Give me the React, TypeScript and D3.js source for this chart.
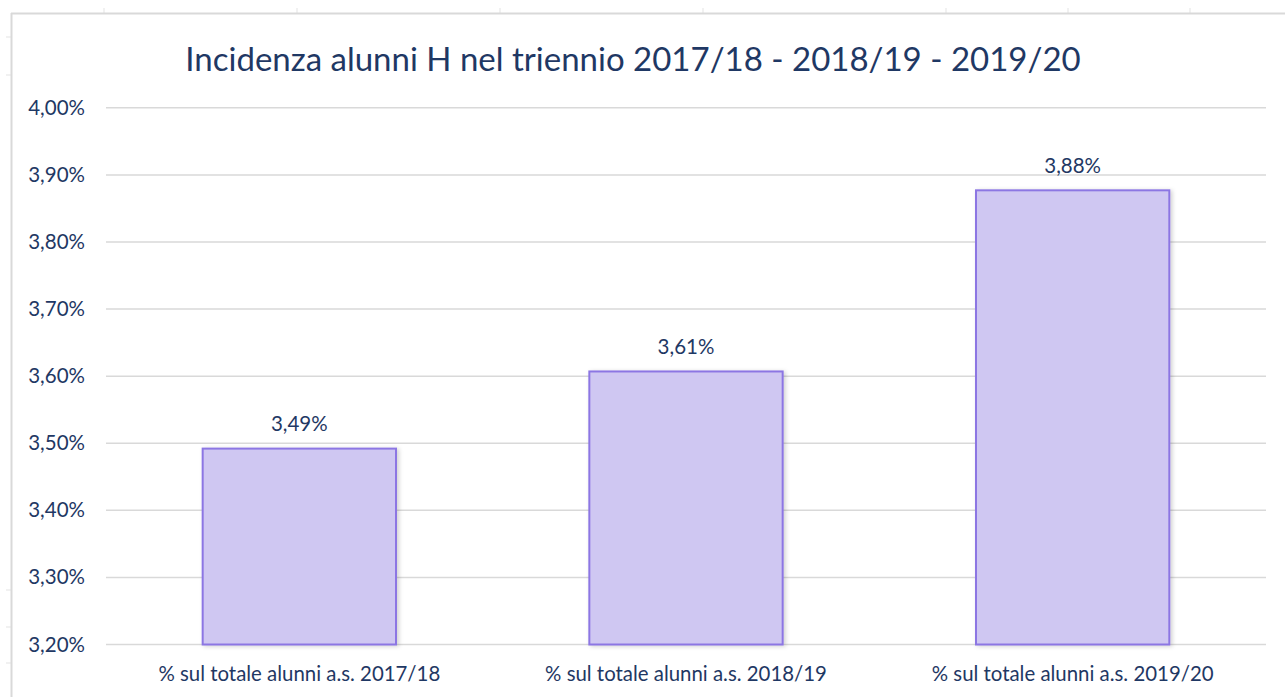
import React from "react";
import * as d3 from "d3";

const categories = [
  "% sul totale alunni a.s. 2017/18",
  "% sul totale alunni a.s. 2018/19",
  "% sul totale alunni a.s. 2019/20",
];
const values = [3.492, 3.607, 3.877];
const valueLabels = ["3,49%", "3,61%", "3,88%"];
const yTicks = [3.2, 3.3, 3.4, 3.5, 3.6, 3.7, 3.8, 3.9, 4.0];
const title = "Incidenza alunni H nel triennio 2017/18 - 2018/19 - 2019/20";
const cellColumnMarks = [104, 297, 500, 703, 946, 1068, 1190];
const cellRowMarks = [37, 75, 590, 627, 663];

const W = 1285;
const H = 697;
const TEXT = "#1F3864";
const FONT = "Lato, 'Open Sans', sans-serif";

export default function App() {
  const x = d3.scaleBand<string>().domain(categories).range([106, 1266]).paddingInner(0.5).paddingOuter(0.25);
  const y = d3.scaleLinear().domain([3.2, 4.0]).range([644.5, 107.8]);
  const fmt = (v: number) => v.toFixed(2).replace(".", ",") + "%";

  return (
    <div style={{ position: "fixed", left: 0, top: 0, width: W, height: H, background: "#fff" }}>
      <svg width={W} height={H} style={{ display: "block" }}>
        <defs>
          <filter id="sh" x="-10%" y="-10%" width="130%" height="130%">
            <feDropShadow dx="2" dy="1" stdDeviation="2" floodColor="#000" floodOpacity="0.18" />
          </filter>
        </defs>
        {/* spreadsheet cell marks */}
        {cellColumnMarks.map((cx, i) => (
          <line key={"c" + i} x1={cx} x2={cx} y1={8} y2={13} stroke="#E3E3E3" strokeWidth={1} />
        ))}
        {cellRowMarks.map((cy, i) => (
          <line key={"r" + i} x1={6} x2={11} y1={cy} y2={cy} stroke="#E3E3E3" strokeWidth={1} />
        ))}
        {/* chart border */}
        <line x1={11.5} x2={11.5} y1={13} y2={H} stroke="#D9D9D9" strokeWidth={2} />
        <line x1={11} x2={W} y1={13.5} y2={13.5} stroke="#D9D9D9" strokeWidth={2} />

        {/* title */}
        <text x={633} y={71} textAnchor="middle" fontFamily={FONT} fontSize={33} fill={TEXT}>
          {title}
        </text>

        {/* gridlines & y labels */}
        {yTicks.map((t) => (
          <g key={t}>
            <line x1={106} x2={1266} y1={y(t)} y2={y(t)} stroke="#D9D9D9" strokeWidth={1.5} />
            <text x={85} y={y(t) + 7} textAnchor="end" fontFamily={FONT} fontSize={20.5} fill={TEXT}>
              {fmt(t)}
            </text>
          </g>
        ))}

        {/* bars */}
        {categories.map((c, i) => (
          <g key={c}>
            <rect
              x={x(c)!}
              y={y(values[i])}
              width={x.bandwidth()}
              height={y(3.2) - y(values[i])}
              fill="#CFC7F2"
              stroke="#8C76E3"
              strokeWidth={2}
              filter="url(#sh)"
            />
            <text
              x={x(c)! + x.bandwidth() / 2}
              y={y(values[i]) - 17.5}
              textAnchor="middle"
              fontFamily={FONT}
              fontSize={20.5}
              fill={TEXT}
            >
              {valueLabels[i]}
            </text>
            <text
              x={x(c)! + x.bandwidth() / 2}
              y={680.5}
              textAnchor="middle"
              fontFamily={FONT}
              fontSize={20.4}
              fill={TEXT}
            >
              {c}
            </text>
          </g>
        ))}
      </svg>
    </div>
  );
}
